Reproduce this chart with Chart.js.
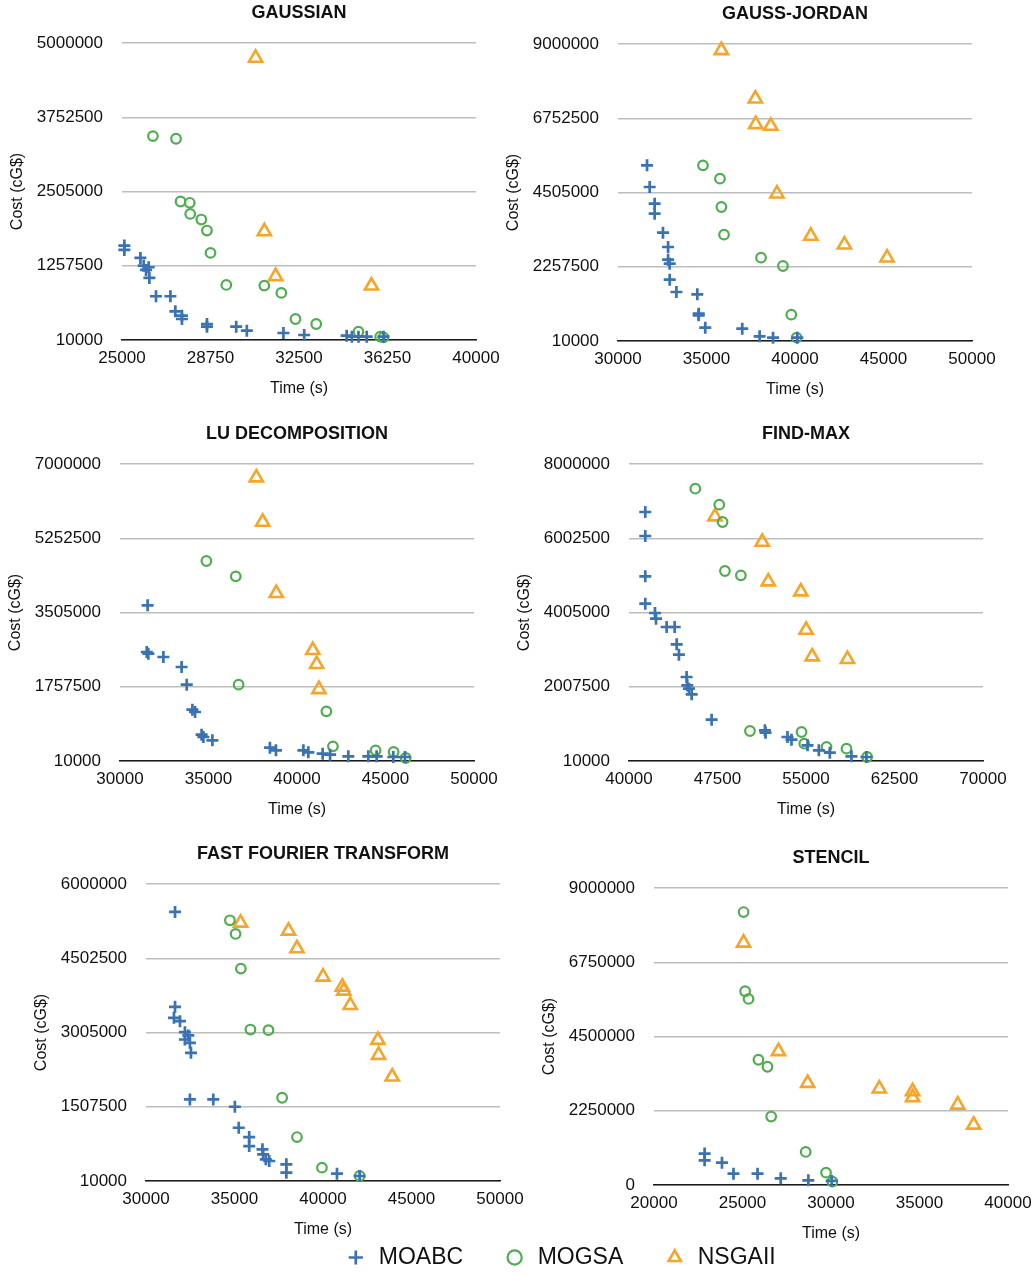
<!DOCTYPE html>
<html>
<head>
<meta charset="utf-8">
<title>Cost vs Time</title>
<script src="https://cdn.jsdelivr.net/npm/chart.js@4.4.0/dist/chart.umd.min.js"></script>
<style>
  html, body { margin: 0; padding: 0; background: #fff; }
  body { position: relative; width: 1035px; height: 1275px; overflow: hidden; }
  canvas { position: absolute; }
</style>
</head>
<body>
<canvas id="gaussian" width="500" height="400" style="left:4px;top:0px"></canvas>
<canvas id="gaussJordan" width="500" height="400" style="left:500px;top:1px"></canvas>
<canvas id="luDecomp" width="500" height="400" style="left:2px;top:421px"></canvas>
<canvas id="findMax" width="500" height="400" style="left:511px;top:421px"></canvas>
<canvas id="fft" width="500" height="400" style="left:28px;top:841px"></canvas>
<canvas id="stencil" width="500" height="400" style="left:536px;top:845px"></canvas>
<canvas id="legend" width="900" height="150" style="left:110px;top:1206px"></canvas>
<script>
// series names
var seriesNames = ['MOABC', 'MOGSA', 'NSGAII'];

// GAUSSIAN  [time, cost]
var gaussianX = [25000, 28750, 32500, 36250, 40000];
var gaussianY = [10000, 1257500, 2505000, 3752500, 5000000];
var gaussianMoabc = [[25100,1597000],[25100,1524000],[25780,1389000],[25920,1259000],[26130,1232000],[26020,1188000],
  [26160,1053000],[26440,745000],[27050,745000],[27260,492000],[27540,419000],[27540,363000],[28600,279000],
  [28600,234000],[29840,234000],[30290,167000],[31840,128000],[32720,94000],[34520,83000],[34740,66000],
  [35020,66000],[35370,66000],[36080,66000]];
var gaussianMogsa = [[26310,3436000],[27290,3391000],[27480,2337000],[27870,2315000],[27890,2129000],[28360,2034000],
  [28600,1849000],[28750,1473000],[29420,935000],[31030,924000],[31750,801000],[32350,363000],[33230,279000],
  [35020,150000],[35940,66000],[36080,55000]];
var gaussianNsga = [[30660,4750000],[31030,1835000],[31510,1080000],[35570,922000]];

// GAUSS-JORDAN
var gaussJordanX = [30000, 35000, 40000, 45000, 50000];
var gaussJordanY = [10000, 2257500, 4505000, 6752500, 9000000];
var gaussJordanMoabc = [[31640,5327000],[31790,4672000],[32070,4167000],[32070,3864000],[32540,3289000],[32830,2855000],
  [32830,2472000],[32920,2351000],[32920,1867000],[33300,1493000],[34480,1423000],[34560,837000],[34560,787000],
  [34930,414000],[37020,383000],[38000,151000],[38760,111000],[40130,111000]];
var gaussJordanMogsa = [[34800,5327000],[35760,4924000],[35840,4066000],[35990,3229000],[38080,2533000],[39320,2280000],
  [39790,807000],[40090,111000]];
var gaussJordanNsga = [[35840,8810000],[37760,7345000],[37780,6570000],[38630,6518000],[38980,4470000],[40890,3190000],
  [42790,2926000],[45200,2533000]];

// LU DECOMPOSITION
var luX = [30000, 35000, 40000, 45000, 50000];
var luY = [10000, 1757500, 3505000, 5252500, 7000000];
var luMoabc = [[31560,3674000],[31510,2575000],[31600,2536000],[32450,2458000],[33480,2222000],[33770,1807000],
  [34090,1218000],[34240,1163000],[34610,630000],[34710,575000],[35220,496000],[38470,324000],[38810,261000],
  [40360,261000],[40640,214000],[41450,183000],[41870,159000],[42900,120000],[44030,120000],[44500,120000],
  [45440,104000],[46100,104000]];
var luMogsa = [[34880,4717000],[36540,4356000],[36700,1807000],[41660,1179000],[42030,355000],[44440,261000],
  [45460,222000],[46140,81000]];
var luNsga = [[37700,6680000],[38060,5637000],[38830,3958000],[40890,2616000],[41110,2287000],[41240,1698000]];

// FIND-MAX
var findMaxX = [40000, 47500, 55000, 62500, 70000];
var findMaxY = [10000, 2007500, 4005000, 6002500, 8000000];
var findMaxMoabc = [[41380,6709000],[41380,6063000],[41380,4978000],[41380,4243000],[42200,3992000],[42290,3839000],
  [43190,3615000],[43870,3615000],[44040,3149000],[44230,2871000],[44880,2270000],[44940,2046000],[45080,1956000],
  [45310,1804000],[47000,1122000],[51520,835000],[51570,772000],[53430,656000],[53770,584000],[55130,432000],
  [56090,297000],[57020,234000],[58850,136000],[60120,118000]];
var findMaxMogsa = [[45620,7336000],[47650,6906000],[47930,6440000],[48130,5121000],[49480,5005000],[50250,817000],
  [54620,790000],[54850,476000],[56740,387000],[58430,342000],[60180,118000]];
var findMaxNsga = [[47280,6585000],[51290,5903000],[51800,4836000],[54560,4567000],[55010,3536000],[55520,2819000],
  [58510,2747000]];

// FAST FOURIER TRANSFORM
var fftX = [30000, 35000, 40000, 45000, 50000];
var fftY = [10000, 1507500, 3005000, 4502500, 6000000];
var fftMoabc = [[31640,5436000],[31640,3522000],[31580,3300000],[31920,3233000],[32200,3012000],[32390,2945000],
  [32200,2864000],[32480,2797000],[32540,2595000],[32480,1655000],[33800,1655000],[35020,1508000],[35240,1084000],
  [35830,896000],[35830,715000],[36580,648000],[36620,547000],[36770,447000],[36960,413000],[37930,346000],
  [37930,178000],[40790,158000],[42070,111000]];
var fftMogsa = [[34740,5268000],[35060,4993000],[35360,4294000],[35900,3065000],[36920,3052000],[37690,1689000],
  [38530,896000],[39940,279000],[42070,111000]];
var fftNsga = [[35340,5216000],[38050,5055000],[38530,4699000],[40000,4128000],[41090,3926000],[41170,3846000],
  [41540,3557000],[43100,2852000],[43140,2550000],[43910,2113000]];

// STENCIL
var stencilX = [20000, 25000, 30000, 35000, 40000];
var stencilY = [0, 2250000, 4500000, 6750000, 9000000];
var stencilMoabc = [[22860,952000],[22860,749000],[23840,678000],[24490,344000],[25850,344000],[27160,203000],
  [28720,142000],[30040,122000]];
var stencilMogsa = [[25060,8271000],[25150,5872000],[25340,5639000],[25900,3796000],[26410,3584000],[26620,2075000],
  [28570,1002000],[29720,375000],[30080,101000]];
var stencilNsga = [[25060,7340000],[27030,4050000],[28680,3088000],[32730,2916000],[34610,2835000],[34610,2653000],
  [37160,2430000],[38060,1823000]];

var FONT = '"Liberation Sans", Arial, Helvetica, sans-serif';
var BLUE = '#3a72b2';
var GREEN = '#4fad4f';
var ORANGE = '#f5a52a';

function toPoints(arr) {
  return arr.map(function(p) { return {x: p[0], y: p[1]}; });
}

function seriesSets(moabc, mogsa, nsga) {
  return [
    {
      label: seriesNames[0],
      data: toPoints(moabc),
      clip: false,
      pointStyle: 'cross',
      pointRadius: 6,
      borderWidth: 2.7,
      pointBorderWidth: 2.7,
      borderColor: BLUE,
      backgroundColor: BLUE
    },
    {
      label: seriesNames[1],
      data: toPoints(mogsa),
      clip: false,
      pointStyle: 'circle',
      pointRadius: 4.8,
      borderWidth: 2.2,
      pointBorderWidth: 2.2,
      borderColor: GREEN,
      backgroundColor: 'rgba(0,0,0,0)'
    },
    {
      label: seriesNames[2],
      data: toPoints(nsga),
      clip: false,
      pointStyle: 'triangle',
      pointRadius: 7.6,
      borderWidth: 2.6,
      pointBorderWidth: 2.6,
      borderColor: ORANGE,
      backgroundColor: 'rgba(0,0,0,0)'
    }
  ];
}

function makePanel(id, title, xTicks, yTicks, moabc, mogsa, nsga) {
  var ctx = document.getElementById(id);
  return new Chart(ctx, {
    type: 'scatter',
    data: { datasets: seriesSets(moabc, mogsa, nsga) },
    options: {
      responsive: false,
      animation: false,
      devicePixelRatio: 1,
      layout: { padding: { left: 0, top: 0, right: 28, bottom: 0 } },
      plugins: {
        legend: { display: false },
        tooltip: { enabled: false },
        title: {
          display: true,
          text: title,
          fullSize: false,
          color: '#111',
          font: { family: FONT, size: 18, weight: 'bold' },
          padding: { top: 2.6, bottom: 18.8 }
        }
      },
      scales: {
        x: {
          type: 'linear',
          min: xTicks[0],
          max: xTicks[xTicks.length - 1],
          afterBuildTicks: function(scale) {
            scale.ticks = xTicks.map(function(v) { return {value: v}; });
          },
          afterFit: function(scale) {
            scale.height = 60;
            scale.paddingLeft = 0;
            scale.paddingRight = 0;
          },
          grid: { display: false, drawTicks: false },
          border: { display: true, color: '#1a1a1a', width: 1.5 },
          ticks: {
            padding: 8.5,
            maxRotation: 0,
            autoSkip: false,
            color: '#111',
            font: { family: FONT, size: 17 },
            callback: function(v) { return String(v); }
          },
          title: {
            display: true,
            text: 'Time (s)',
            color: '#111',
            font: { family: FONT, size: 16 },
            padding: { top: 0, bottom: 2 }
          }
        },
        y: {
          type: 'linear',
          min: yTicks[0],
          max: yTicks[yTicks.length - 1],
          afterBuildTicks: function(scale) {
            scale.ticks = yTicks.map(function(v) { return {value: v}; });
          },
          afterFit: function(scale) {
            scale.width = 118;
            scale.paddingTop = 0;
            scale.paddingBottom = 0;
          },
          grid: { color: '#bdbdbd', lineWidth: 1.5, drawTicks: false },
          border: { display: false },
          ticks: {
            padding: 19,
            autoSkip: false,
            color: '#111',
            font: { family: FONT, size: 17 },
            callback: function(v) { return String(v); }
          },
          title: {
            display: true,
            text: 'Cost (cG$)',
            color: '#111',
            font: { family: FONT, size: 16 },
            padding: { top: 4, bottom: 0 }
          }
        }
      }
    }
  });
}

makePanel('gaussian', 'GAUSSIAN', gaussianX, gaussianY, gaussianMoabc, gaussianMogsa, gaussianNsga);
makePanel('gaussJordan', 'GAUSS-JORDAN', gaussJordanX, gaussJordanY, gaussJordanMoabc, gaussJordanMogsa, gaussJordanNsga);
makePanel('luDecomp', 'LU DECOMPOSITION', luX, luY, luMoabc, luMogsa, luNsga);
makePanel('findMax', 'FIND-MAX', findMaxX, findMaxY, findMaxMoabc, findMaxMogsa, findMaxNsga);
makePanel('fft', 'FAST FOURIER TRANSFORM', fftX, fftY, fftMoabc, fftMogsa, fftNsga);
makePanel('stencil', 'STENCIL', stencilX, stencilY, stencilMoabc, stencilMogsa, stencilNsga);

// shared legend, drawn by a chart with no points
new Chart(document.getElementById('legend'), {
  type: 'scatter',
  data: { datasets: seriesSets([], [], []) },
  options: {
    responsive: false,
    animation: false,
    devicePixelRatio: 1,
    scales: { x: { display: false }, y: { display: false } },
    plugins: {
      tooltip: { enabled: false },
      legend: {
        display: true,
        position: 'top',
        maxHeight: 140,
        labels: {
          usePointStyle: true,
          boxHeight: 10,
          padding: 40,
          color: '#111',
          font: { family: FONT, size: 23 }
        }
      }
    }
  }
});
</script>
</body>
</html>
